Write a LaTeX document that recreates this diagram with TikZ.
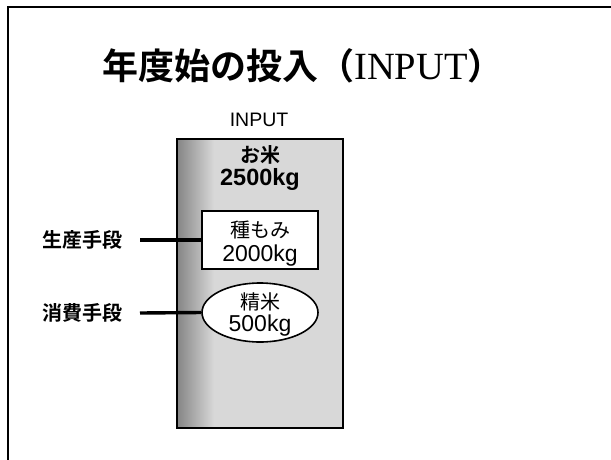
\documentclass[tikz,border=0pt]{standalone}
\usepackage{fontspec}
\usetikzlibrary{shapes.geometric}
\setmainfont{Liberation Sans}
\newfontfamily\jp{Noto Sans CJK JP}[BoldFont={Noto Sans CJK JP Bold}]
\newfontfamily\serifL{Liberation Serif}
\definecolor{boxgray}{HTML}{D8D8D8}
\definecolor{darkgray}{HTML}{858585}
\tikzset{
  frameline/.style={line width=2.6pt, line cap=rect},
  jpbold/.style={font=\jp\bfseries\fontsize{20}{24}\selectfont, inner sep=0pt, anchor=base},
  jpreg/.style={font=\jp\fontsize{20}{24}\selectfont, inner sep=0pt, anchor=base},
  numreg/.style={font=\fontsize{23}{26}\selectfont, inner sep=0pt, anchor=base},
  numbold/.style={font=\bfseries\fontsize{23.5}{26}\selectfont, inner sep=0pt, anchor=base},
  item/.style={draw, line width=1.6pt, fill=white, inner sep=0pt},
  link/.style={line width=3.4pt},
}
\begin{document}
\begin{tikzpicture}[x=1pt,y=-1pt]
\useasboundingbox (0,0) rectangle (611,459);
% slide frame
\draw[frameline] (8,459) -- (8,7) -- (611,7);
% title
\node[inner sep=0pt, anchor=base west, font=\fontsize{36}{40}\selectfont] (title) at (102,79)
  {\jp\bfseries 年度始の投入（{\serifL\mdseries\fontsize{38.5}{40}\selectfont INPUT}）};
% INPUT label
\node[inner sep=0pt, anchor=base, font=\fontsize{19.5}{22}\selectfont] (inlabel) at (259,126) {INPUT};
% big box
\fill[boxgray] (177,139) rectangle (343,428);
\shade[left color=darkgray, right color=boxgray] (177,139) rectangle (214,428);
\node[draw, line width=2.4pt, minimum width=166pt, minimum height=289pt, inner sep=0pt] (bigbox) at (260,283.5) {};
\node[jpbold] (rice) at (260,162.5) {お米};
\node[numbold] (riceamt) at (260,185) {2500kg};
% seed rectangle
\node[item, minimum width=116pt, minimum height=58pt] (seed) at (260,240) {};
\node[jpreg] (seedname) at (260,237.5) {種もみ};
\node[numreg] (seedamt) at (260,261) {2000kg};
% polished rice ellipse
\node[item, ellipse, minimum width=116pt, minimum height=59pt] (polish) at (260,312.5) {};
\node[jpreg] (polishname) at (260,309.5) {精米};
\node[numreg] (polishamt) at (260,331) {500kg};
% left labels
\node[jpbold] (prod) at (82,247.5) {生産手段};
\node[jpbold] (cons) at (82,320.5) {消費手段};
\coordinate (prodend) at (140,240);
\coordinate (consend) at (140,313);
\draw[link] (prodend) -- (seed.west);
\draw[link] (consend) -- (polish.west);
\end{tikzpicture}
\end{document}
